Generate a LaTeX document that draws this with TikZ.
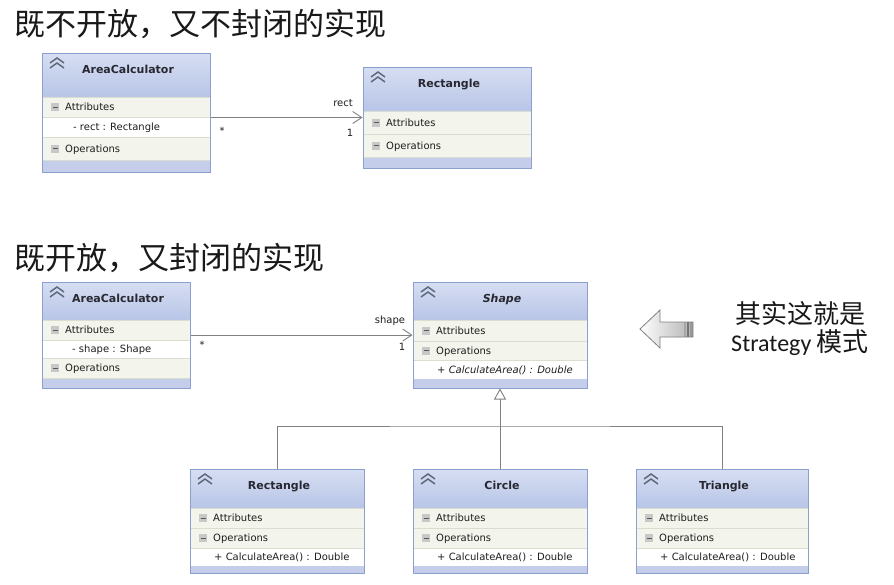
\documentclass[tikz,border=0pt]{standalone}
\usepackage{fontspec}
\setmainfont{DejaVu Sans}
\newfontfamily\cjk{Noto Sans CJK SC}
\newfontfamily\carlito{Carlito}
\usetikzlibrary{arrows.meta,calc}

\definecolor{hdrtop}{RGB}{214,222,242}
\definecolor{hdrbot}{RGB}{184,197,231}
\definecolor{ftr}{RGB}{196,206,234}
\definecolor{bord}{RGB}{140,160,208}
\definecolor{sect}{RGB}{243,244,235}
\definecolor{sep}{RGB}{218,222,208}
\definecolor{conn}{RGB}{128,128,128}
\definecolor{txt}{RGB}{30,30,30}
\definecolor{ttl}{RGB}{40,40,50}
\definecolor{chevc}{RGB}{95,105,125}
\definecolor{icon}{RGB}{200,200,200}

\tikzset{
  classnode/.style={draw=bord, line width=1pt, inner sep=0pt, rectangle},
  classtitle/.style={anchor=base, inner sep=0pt, text=ttl, font=\bfseries\fontsize{11}{13}\selectfont},
  rowtext/.style={anchor=base west, inner sep=0pt, text=txt, font=\fontsize{10}{12}\selectfont},
  lbl/.style={inner sep=0pt, text=txt, font=\fontsize{10}{12}\selectfont},
  chev/.style={draw=chevc, line width=1.5pt},
  sepline/.style={draw=sep, line width=0.6pt},
  conn/.style={draw=conn, line width=0.9pt},
  assoc/.style={conn, -{Straight Barb[length=9pt,width=12pt,line width=0.9pt]}},
  gen/.style={conn, -{Triangle[open,fill=white,length=11pt,width=12pt,line width=0.9pt]}},
  bigtitle/.style={anchor=west, inner sep=0pt, text=black!90, font=\cjk\fontsize{31}{36}\selectfont},
}

% name L T R B H F title rows
\newcommand\umlclass[9]{%
  \shade[top color=hdrtop,bottom color=hdrbot] (#2,#3) rectangle (#4,#6);
  \fill[white] (#2,#6) rectangle (#4,#7);
  \fill[ftr] (#2,#7) rectangle (#4,#5);
  #9
  \node[classnode, minimum width={(#4-#2)*1pt}, minimum height={(#5-#3)*1pt}] (#1) at ({(#2+#4)/2},{(#3+#5)/2}) {};
  \node[classtitle] (#1-title) at ({(#2+#4)/2+2},{#3+20.5}) {#8};
  \draw[chev] (#2+8,#3+10) -- (#2+15,#3+5) -- (#2+22,#3+10);
  \draw[chev] (#2+8,#3+15) -- (#2+15,#3+10) -- (#2+22,#3+15);
}
% L R y1 y2 text
\newcommand\sectrow[5]{%
  \fill[sect] (#1,#3) rectangle (#2,#4);
  \draw[sepline] (#1,#3) -- (#2,#3);
  \draw[sepline] (#1,#4) -- (#2,#4);
  \fill[icon] (#1+9,{(#3+#4)/2-4}) rectangle (#1+17,{(#3+#4)/2+4});
  \draw[black!65, line width=0.9pt] (#1+10.5,{(#3+#4)/2}) -- (#1+15.5,{(#3+#4)/2});
  \node[rowtext] at (#1+23,{(#3+#4)/2+3.7}) {#5};
}
% L y1 y2 offset text
\newcommand\memrow[5]{%
  \node[rowtext] at (#1+#4,{(#2+#3)/2+3.7}) {#5};
}

\begin{document}
\begin{tikzpicture}[x=1pt,y=-1pt]
\useasboundingbox (0,0) rectangle (894,584);
\fill[white] (0,0) rectangle (894,584);

% titles
\node[bigtitle] (t1) at (14,24) {既不开放，又不封闭的实现};
\node[bigtitle] (t2) at (14,258) {既开放，又封闭的实现};

% ---- top diagram
\umlclass{a1}{42}{53}{210}{172}{97}{160}{AreaCalculator}{%
  \sectrow{42}{210}{97}{117}{Attributes}
  \memrow{42}{117}{137}{31}{- rect : Rectangle}
  \sectrow{42}{210}{137}{160}{Operations}
}
\umlclass{r1}{363}{67}{531}{168}{111}{157}{Rectangle}{%
  \sectrow{363}{531}{111}{134}{Attributes}
  \sectrow{363}{531}{134}{157}{Operations}
}
\draw[assoc] (a1.east |- r1.west) -- (r1.west);
\node[lbl] (l1) at (343,103) {rect};
\node[lbl] (l2) at (350,133) {1};
\node[lbl] (l3) at (222,131) {*};

% ---- bottom diagram
\umlclass{a2}{42}{282}{190}{388}{320}{378}{AreaCalculator}{%
  \sectrow{42}{190}{320}{340}{Attributes}
  \memrow{42}{340}{358}{30}{- shape : Shape}
  \sectrow{42}{190}{358}{378}{Operations}
}
\umlclass{shape}{413}{282}{587}{388}{320}{379}{\itshape Shape}{%
  \sectrow{413}{587}{320}{341}{Attributes}
  \sectrow{413}{587}{341}{360}{Operations}
  \memrow{413}{360}{379}{24}{\itshape + CalculateArea() : Double}
}
\draw[assoc] (a2.east) -- (shape.west);
\node[lbl] (l4) at (390,321) {shape};
\node[lbl] (l5) at (402,347) {1};
\node[lbl] (l6) at (202,345) {*};

\umlclass{rect2}{190}{469}{364}{573}{508}{566}{Rectangle}{%
  \sectrow{190}{364}{508}{528}{Attributes}
  \sectrow{190}{364}{528}{548}{Operations}
  \memrow{190}{548}{566}{24}{+ CalculateArea() : Double}
}
\umlclass{circ}{413}{469}{587}{573}{508}{566}{Circle}{%
  \sectrow{413}{587}{508}{528}{Attributes}
  \sectrow{413}{587}{528}{548}{Operations}
  \memrow{413}{548}{566}{24}{+ CalculateArea() : Double}
}
\umlclass{tri}{636}{469}{808}{573}{508}{566}{Triangle}{%
  \sectrow{636}{808}{508}{528}{Attributes}
  \sectrow{636}{808}{528}{548}{Operations}
  \memrow{636}{548}{566}{24}{+ CalculateArea() : Double}
}
\coordinate (bus) at (500,426);
\draw[conn] (rect2.north) |- (bus) -| (tri.north);
\draw[gen] (circ.north) -- (shape.south);

% ---- hollow arrow
\shade[left color=white, right color=black!30]
  (640,329) -- (660,310) -- (660,322) -- (693,322) -- (693,337) -- (660,337) -- (660,348) -- cycle;
\fill[black!35] (684,322) rectangle (686,337);
\fill[black!55] (687,322) rectangle (689,337);
\fill[black!40] (690,322) rectangle (693,337);
\draw[black!50, line width=0.8pt, line join=miter]
  (640,329) -- (660,310) -- (660,322) -- (693,322) -- (693,337) -- (660,337) -- (660,348) -- cycle;

\node[inner sep=0pt, font=\cjk\fontsize{26}{30}\selectfont, text=black!90] (s1) at (800,314) {其实这就是};
\node[inner sep=0pt, text=black!90] (s2) at (800,343) {{\carlito\fontsize{24}{30}\selectfont Strategy }{\cjk\fontsize{26}{30}\selectfont 模式}};
\end{tikzpicture}
\end{document}
